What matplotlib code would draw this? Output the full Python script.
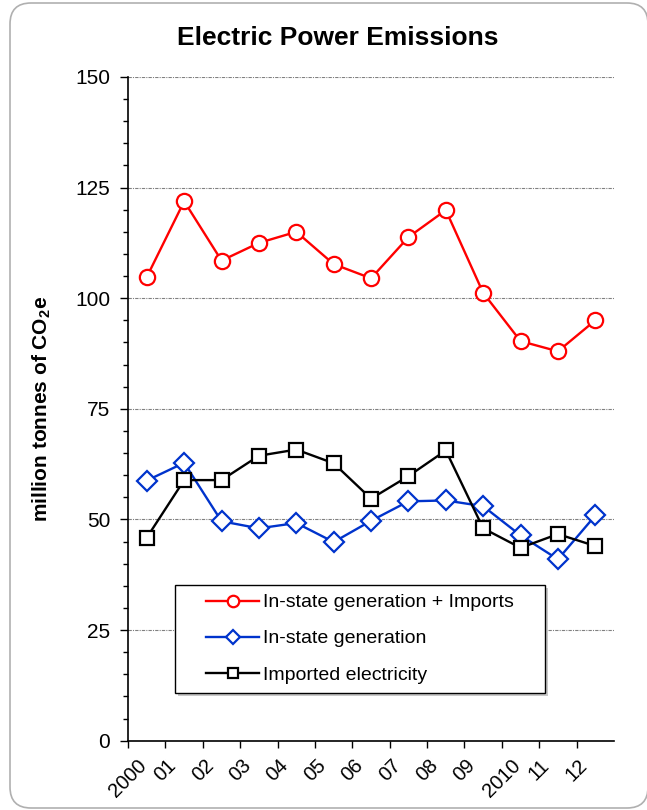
import matplotlib
matplotlib.use('Agg')
import matplotlib.pyplot as plt
from matplotlib.patches import FancyBboxPatch, Rectangle
from matplotlib.ticker import MultipleLocator

plt.rcParams['font.family'] = 'Liberation Sans'
plt.rcParams['mathtext.fontset'] = 'custom'
plt.rcParams['mathtext.rm'] = 'Liberation Sans'
plt.rcParams['mathtext.bf'] = 'Liberation Sans:bold'

# emissions, million tonnes CO2e
years = ['2000', '01', '02', '03', '04', '05', '06', '07', '08', '09', '2010', '11', '12']
total = [104.8, 121.9, 108.5, 112.5, 115.0, 107.7, 104.5, 113.8, 119.9, 101.2, 90.3, 88.0, 95.0]
instate = [58.8, 62.8, 49.6, 48.0, 49.2, 44.9, 49.7, 54.1, 54.3, 53.0, 46.4, 41.0, 50.9]
imported = [45.9, 58.9, 58.9, 64.4, 65.8, 62.7, 54.7, 59.8, 65.6, 48.0, 43.6, 46.7, 44.0]

fig = plt.figure(figsize=(6.47, 8.10), dpi=100)
ax = fig.add_axes([0.198, 0.0855, 0.751, 0.8195])

# rounded frame around the whole chart (inches)
frame = FancyBboxPatch((0.10, 0.02), 6.38, 8.05,
                       boxstyle='round,pad=0,rounding_size=0.21',
                       transform=fig.dpi_scale_trans, facecolor='none',
                       edgecolor='#b0b0b0', linewidth=1.2, zorder=0)
fig.patches.append(frame)

x = [i + 0.5 for i in range(len(years))]

ax.plot(x, total, color='#ff0000', lw=1.7, marker='o', ms=11,
        mfc='white', mec='#ff0000', mew=1.6, label='In-state generation + Imports', zorder=3)
ax.plot(x, instate, color='#0033cc', lw=1.7, marker='D', ms=10,
        mfc='white', mec='#0033cc', mew=1.6, label='In-state generation', zorder=3)
ax.plot(x, imported, color='black', lw=1.7, marker='s', ms=10,
        mfc='white', mec='black', mew=1.6, label='Imported electricity', zorder=3)

ax.set_xlim(0, len(years))
ax.set_ylim(0, 150)
ax.set_xticks(range(len(years)))
ax.set_xticklabels(years, rotation=45, ha='center', va='top', fontsize=14.5)
ax.yaxis.set_major_locator(MultipleLocator(25))
ax.yaxis.set_minor_locator(MultipleLocator(5))
ax.tick_params(axis='y', which='major', direction='out', length=6, width=1, labelsize=15, pad=7)
ax.tick_params(axis='y', which='minor', direction='out', length=3.6, width=1)
ax.tick_params(axis='x', which='major', direction='out', length=5, width=1, pad=6)

ax.grid(axis='y', which='major', color='#808080', linestyle=(0, (3, 1, 1, 1)), linewidth=0.8)
ax.set_axisbelow(True)
for side in ['top', 'right']:
    ax.spines[side].set_visible(False)
ax.spines['left'].set_linewidth(1.2)
ax.spines['bottom'].set_linewidth(1.2)

ax.set_ylabel(r'million tonnes of CO$_\mathbf{2}$e', fontsize=15, fontweight='bold')
ax.yaxis.set_label_coords(-0.155, 0.5)
fig.text(0.522, 0.953, 'Electric Power Emissions', ha='center', va='center',
         fontsize=19, fontweight='bold')

# legend box with a soft drop shadow
bx, by, bw, bh = 0.0967, 0.0724, 0.7613, 0.1629
shadow = Rectangle((bx + 0.006, by - 0.0045), bw, bh, transform=ax.transAxes,
                   facecolor='#c8c8c8', edgecolor='none', zorder=4)
box = Rectangle((bx, by), bw, bh, transform=ax.transAxes, facecolor='white',
                edgecolor='black', linewidth=1.0, zorder=4.5)
ax.add_patch(shadow)
ax.add_patch(box)
leg = ax.legend(loc='center', bbox_to_anchor=(bx + bw / 2, by + bh / 2),
                fontsize=14, frameon=False, borderpad=0, markerscale=0.75,
                labelspacing=0.95, handlelength=2.7, handletextpad=0.2)
leg.set_zorder(5)

plt.savefig('out.png', dpi=100)
